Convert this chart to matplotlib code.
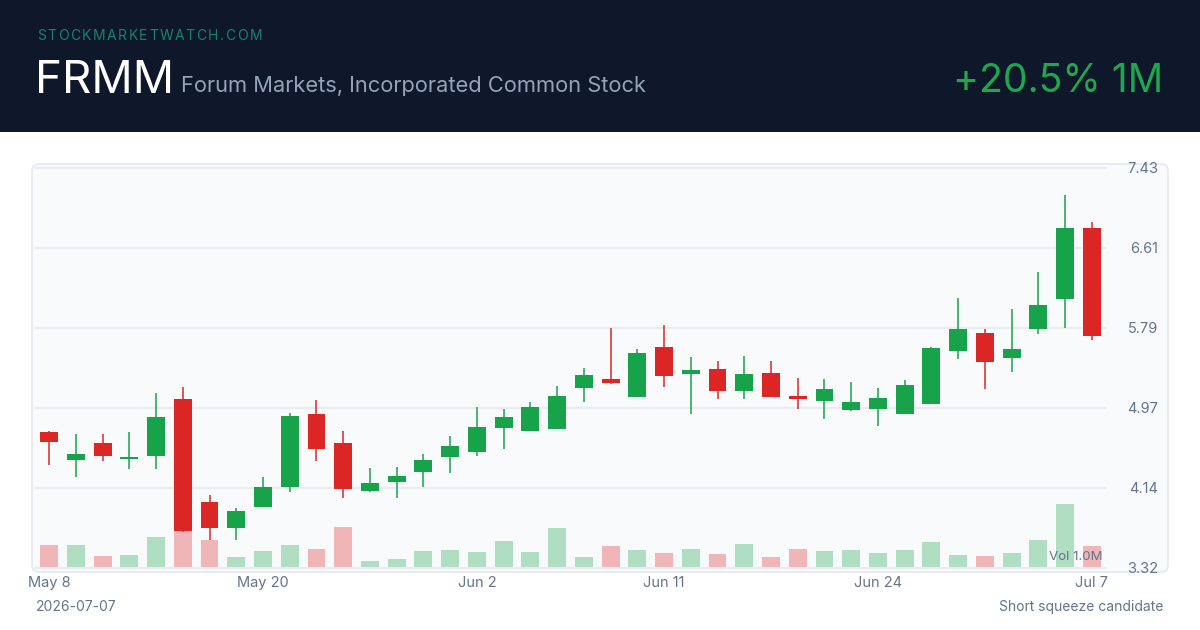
import matplotlib
matplotlib.use("Agg")
import matplotlib.pyplot as plt
from matplotlib.patches import FancyBboxPatch, Rectangle
import numpy as np

plt.rcParams['font.family'] = ['Inter', 'DejaVu Sans']

# ---------------- data ----------------
ticker = "FRMM"
company = "Forum Markets, Incorporated Common Stock"
change_text = "+20.5% 1M"
brand = "STOCKMARKETWATCH.COM"
date_text = "2026-07-07"
note_text = "Short squeeze candidate"

opens = [4.712, 4.430, 4.598, 4.440, 4.468, 5.054, 3.995, 3.728, 3.947, 4.146,
         4.900, 4.598, 4.111, 4.201, 4.300, 4.461, 4.509, 4.759, 4.728, 4.749,
         5.170, 5.256, 5.077, 5.585, 5.311, 5.359, 5.139, 5.318, 5.085, 5.030,
         4.938, 4.951, 4.900, 4.999, 5.550, 5.735, 5.472, 5.776, 6.078, 6.808]
highs = [4.725, 4.697, 4.697, 4.712, 5.115, 5.177, 4.064, 3.937, 4.255, 4.907,
         5.047, 4.725, 4.345, 4.352, 4.485, 4.674, 4.968, 4.954, 5.020, 5.187,
         5.369, 5.787, 5.565, 5.814, 5.485, 5.441, 5.496, 5.447, 5.270, 5.259,
         5.229, 5.167, 5.249, 5.585, 6.089, 5.770, 5.976, 6.356, 7.150, 6.870]
lows = [4.375, 4.249, 4.420, 4.337, 4.337, 3.690, 3.602, 3.608, 3.940, 4.098,
        4.420, 4.039, 4.095, 4.039, 4.152, 4.296, 4.471, 4.537, 4.728, 4.745,
        5.026, 5.205, 5.075, 5.180, 4.903, 5.057, 5.057, 5.075, 4.948, 4.848,
        4.935, 4.779, 4.898, 4.997, 5.462, 5.153, 5.328, 5.725, 5.780, 5.657]
closes = [4.612, 4.485, 4.468, 4.455, 4.866, 3.694, 3.728, 3.906, 4.146, 4.879,
          4.540, 4.129, 4.194, 4.262, 4.427, 4.571, 4.766, 4.866, 4.968, 5.085,
          5.304, 5.218, 5.527, 5.287, 5.349, 5.139, 5.308, 5.077, 5.051, 5.153,
          5.026, 5.067, 5.195, 5.575, 5.773, 5.431, 5.565, 6.017, 6.808, 5.698]
volumes_m = [1.03, 1.05, 0.55, 0.57, 1.41, 1.68, 1.28, 0.51, 0.77, 1.06,
             0.86, 1.88, 0.31, 0.41, 0.77, 0.82, 0.72, 1.24, 0.74, 1.83,
             0.51, 0.99, 0.80, 0.68, 0.86, 0.62, 1.11, 0.51, 0.88, 0.77,
             0.80, 0.69, 0.83, 1.18, 0.60, 0.53, 0.68, 1.26, 2.94, 1.00]
xtick_pos = [0, 8, 16, 23, 31, 39]
xtick_labels = ["May 8", "May 20", "Jun 2", "Jun 11", "Jun 24", "Jul 7"]
ytick_vals = [3.32, 4.142, 4.964, 5.786, 6.608, 7.43]
ytick_labels = ["3.32", "4.14", "4.97", "5.79", "6.61", "7.43"]

# ---------------- style ----------------
GREEN = "#16a34a"
RED = "#dc2626"
HEADER_BG = "#0f172a"
PANEL_BG = "#f8fafc"
GRID = "#e8ecf2"
MUTED = "#64748b"

W, H = 1200, 630
fig = plt.figure(figsize=(W / 100, H / 100), dpi=100)
fig.patch.set_facecolor("white")

bg = fig.add_axes([0, 0, 1, 1])
bg.set_xlim(0, W)
bg.set_ylim(H, 0)
bg.axis("off")

# header band
bg.add_patch(Rectangle((0, 0), W, 132, facecolor=HEADER_BG, edgecolor="none"))

renderer = fig.canvas.get_renderer()

# letter-spaced brand
def spaced(x, y, s, target_w, **kw):
    ts = [bg.text(0, y, ch, **kw) for ch in s]
    ws = [t.get_window_extent(renderer=renderer).width for t in ts]
    track = (target_w - sum(ws)) / (len(s) - 1)
    cx = x
    for t, w in zip(ts, ws):
        t.set_x(cx)
        cx += w + track

spaced(37, 40, brand, 225, fontsize=10, color="#17826e", va="baseline", ha="left")
bg.text(35, 93, ticker, fontsize=33, color="white", va="baseline", ha="left")
bg.text(181, 92, company, fontsize=15.75, color="#94a3b8", va="baseline", ha="left")
bg.text(1163, 92, change_text, fontsize=28.2, color="#1fa750", va="baseline", ha="right")

# panel
bg.add_patch(FancyBboxPatch((32, 164), 1136, 408,
                            boxstyle="round,pad=0,rounding_size=7",
                            facecolor=PANEL_BG, edgecolor="#e6e9ef", lw=1.3))

# footer
bg.text(36, 607, date_text, fontsize=10, color=MUTED, va="center", ha="left")
bg.text(1163, 607, note_text, fontsize=10, color=MUTED, va="center", ha="right")

# ---------------- price axes ----------------
left, right = 36, 1106
top, bottom = 167.7, 567.7
rect = [left / W, (H - bottom) / H, (right - left) / W, (bottom - top) / H]
axv = fig.add_axes(rect)
ax = fig.add_axes(rect, sharex=axv)

n = len(opens)
x = np.arange(n)
o = np.array(opens); c = np.array(closes); h = np.array(highs); l = np.array(lows)
v = np.array(volumes_m)
up = c >= o
cols = np.where(up, GREEN, RED)

# volume
axv.bar(x, v, width=0.67, color=cols, alpha=0.32, linewidth=0)
axv.set_ylim(0, v.max() / 0.159)
axv.axis("off")

# candles
ax.patch.set_visible(False)
ax.vlines(x, l, h, colors=cols, linewidth=1.1, zorder=3)
body_bot = np.minimum(o, c)
body_h = np.maximum(np.abs(c - o), 0.018)
ax.bar(x, body_h, bottom=body_bot, width=0.67, color=cols, linewidth=0, zorder=4)

ax.set_xlim(-0.49, n - 0.47)
ax.set_ylim(ytick_vals[0], ytick_vals[-1])
ax.set_yticks(ytick_vals)
ax.set_yticklabels(ytick_labels)
ax.yaxis.tick_right()
ax.tick_params(axis="y", length=0, pad=37.5, labelsize=10.5, labelcolor=MUTED)
for lab in ax.get_yticklabels():
    lab.set_ha("right")
ax.set_xticks(xtick_pos)
ax.set_xticklabels(xtick_labels)
ax.tick_params(axis="x", length=0, pad=6, labelsize=10.5, labelcolor=MUTED)
ax.grid(axis="y", color=GRID, linewidth=1.5, zorder=0)
ax.set_axisbelow(True)
for gl in ax.get_ygridlines():
    gl.set_clip_on(False)
for s in ax.spines.values():
    s.set_visible(False)

ax.text(0.9965, 0.026, f"Vol {v[-1]:.1f}M", transform=ax.transAxes,
        ha="right", va="center", fontsize=9.6, color=MUTED, zorder=6)

fig.savefig("out.png", dpi=100)
